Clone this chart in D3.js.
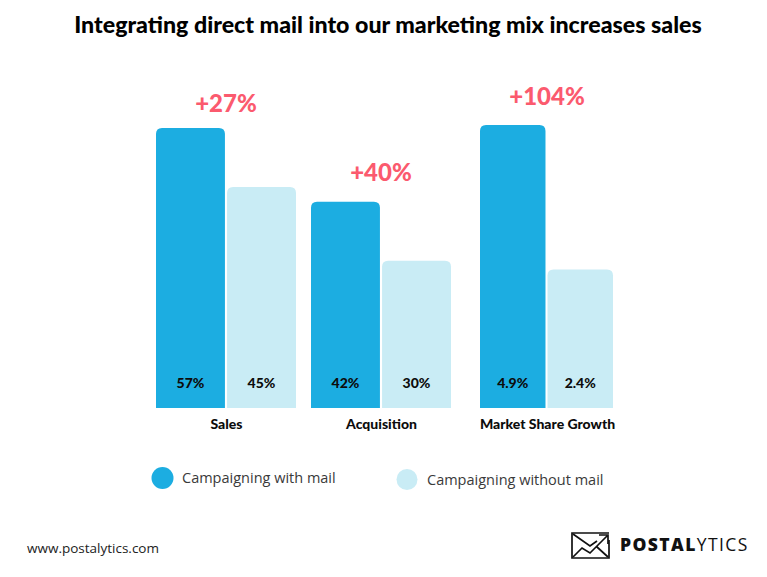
<!DOCTYPE html>
<html>
<head>
<meta charset="utf-8">
<script src="https://cdn.jsdelivr.net/npm/d3@7"></script>
<style>
	html, body { margin: 0; padding: 0; background: #fff; }
	svg { display: block; }
	text { font-family: "Lato", sans-serif; }
</style>
</head>
<body>
<div id="chart"></div>
<script>
const categories = ["Sales", "Acquisition", "Market Share Growth"];
const withMail = [57, 42, 4.9];
const withoutMail = [45, 30, 2.4];
const withMailLabels = ["57%", "42%", "4.9%"];
const withoutMailLabels = ["45%", "30%", "2.4%"];
const lifts = ["+27%", "+40%", "+104%"];
const seriesNames = ["Campaigning with mail", "Campaigning without mail"];

const width = 767, height = 577;
const baseline = 408;
const blue = "#1cade1", pale = "#c9ecf5", red = "#fb5a6e", ink = "#0c0c0c";

// left/right edge of each group of two bars
const groupSpans = [[156, 296], [311, 451], [480, 613]];
const groupCenters = [226, 381, 547];
// top of the +xx% label for each group
const liftY = [112, 181, 105];

const svg = d3.select("#chart")
	.append("svg")
	.attr("width", width)
	.attr("height", height);

svg.append("text")
	.attr("x", 388)
	.attr("y", 33)
	.attr("text-anchor", "middle")
	.attr("font-size", 23.2)
	.attr("font-weight", 900)
	.attr("fill", "#000")
	.text("Integrating direct mail into our marketing mix increases sales");

// percent groups share one scale, market share growth has its own
const yPercent = d3.scaleLinear().domain([0, 57]).range([baseline, 128]);
const yShare = d3.scaleLinear().domain([0, 4.9]).range([baseline, 125]);

function topRoundedBar(x, y, w, r) {
	const p = d3.path();
	p.moveTo(x, baseline);
	p.lineTo(x, y + r);
	p.quadraticCurveTo(x, y, x + r, y);
	p.lineTo(x + w - r, y);
	p.quadraticCurveTo(x + w, y, x + w, y + r);
	p.lineTo(x + w, baseline);
	p.closePath();
	return p.toString();
}

const rows = categories.map(function (c, i) {
	return {
		category: c,
		y: i === 2 ? yShare : yPercent,
		x: d3.scaleBand().domain(["with", "without"]).range(groupSpans[i]).paddingInner(0.03),
		bars: [
			{ key: "with", value: withMail[i], label: withMailLabels[i], color: blue },
			{ key: "without", value: withoutMail[i], label: withoutMailLabels[i], color: pale }
		]
	};
});

const groups = svg.selectAll(".group")
	.data(rows)
	.enter()
	.append("g")
	.attr("class", "group");

const bars = groups.selectAll(".bar")
	.data(function (d) { return d.bars.map(function (b) { return Object.assign({ row: d }, b); }); })
	.enter();

bars.append("path")
	.attr("class", "bar")
	.attr("d", function (d) { return topRoundedBar(d.row.x(d.key), d.row.y(d.value), d.row.x.bandwidth(), 6); })
	.attr("fill", function (d) { return d.color; });

bars.append("text")
	.attr("x", function (d) { return d.row.x(d.key) + d.row.x.bandwidth() / 2; })
	.attr("y", 388)
	.attr("text-anchor", "middle")
	.attr("font-size", 14)
	.attr("font-weight", 900)
	.attr("fill", ink)
	.text(function (d) { return d.label; });

svg.selectAll(".lift")
	.data(lifts)
	.enter()
	.append("text")
	.attr("class", "lift")
	.attr("x", function (d, i) { return groupCenters[i]; })
	.attr("y", function (d, i) { return liftY[i]; })
	.attr("text-anchor", "middle")
	.attr("font-size", 24)
	.attr("font-weight", 900)
	.attr("fill", red)
	.text(function (d) { return d; });

// category labels
const xCat = d3.scaleOrdinal().domain(categories).range(groupCenters);
const axis = svg.append("g")
	.attr("transform", "translate(0, 413)")
	.call(d3.axisBottom(xCat).tickSize(0).tickPadding(6));
axis.select(".domain").remove();
axis.selectAll("text")
	.attr("font-family", "Lato")
	.attr("font-size", 14)
	.attr("font-weight", 900)
	.attr("fill", ink);

// legend
const legendItems = [
	{ name: seriesNames[0], color: blue, cx: 162.5, cy: 478, r: 11, tx: 182 },
	{ name: seriesNames[1], color: pale, cx: 407, cy: 479.5, r: 10.5, tx: 427 }
];
const legend = svg.selectAll(".legend")
	.data(legendItems)
	.enter()
	.append("g")
	.attr("class", "legend");
legend.append("circle")
	.attr("cx", function (d) { return d.cx; })
	.attr("cy", function (d) { return d.cy; })
	.attr("r", function (d) { return d.r; })
	.attr("fill", function (d) { return d.color; });
legend.append("text")
	.attr("x", function (d) { return d.tx; })
	.attr("y", function (d) { return d.cy + 5; })
	.attr("font-size", 14.5)
	.attr("fill", "#3a3a3a")
	.style("font-family", "'Open Sans'")
	.text(function (d) { return d.name; });

// footer
svg.append("text")
	.attr("x", 27)
	.attr("y", 553)
	.attr("font-size", 13.5)
	.attr("fill", "#222")
	.style("font-family", "'Open Sans'")
	.text("www.postalytics.com");

// logo: envelope with a rising line through it
const logo = svg.append("g")
	.attr("fill", "none")
	.attr("stroke", "#111")
	.attr("stroke-width", 1.7);
logo.append("path").attr("d", "M609 533H572V558H609V540");
logo.append("path").attr("d", "M573 534L590 546L597 541M573 557L582 548L590 553L607 536M599 535H608V544M597 547L608 557");

const brand = svg.append("text")
	.attr("x", 620)
	.attr("y", 551)
	.attr("font-size", 17.5)
	.attr("letter-spacing", 1.4)
	.attr("fill", "#111")
	.style("font-family", "'Open Sans'");
brand.append("tspan").attr("font-weight", 800).text("POSTAL");
brand.append("tspan").attr("font-weight", 400).text("YTICS");
</script>
</body>
</html>
